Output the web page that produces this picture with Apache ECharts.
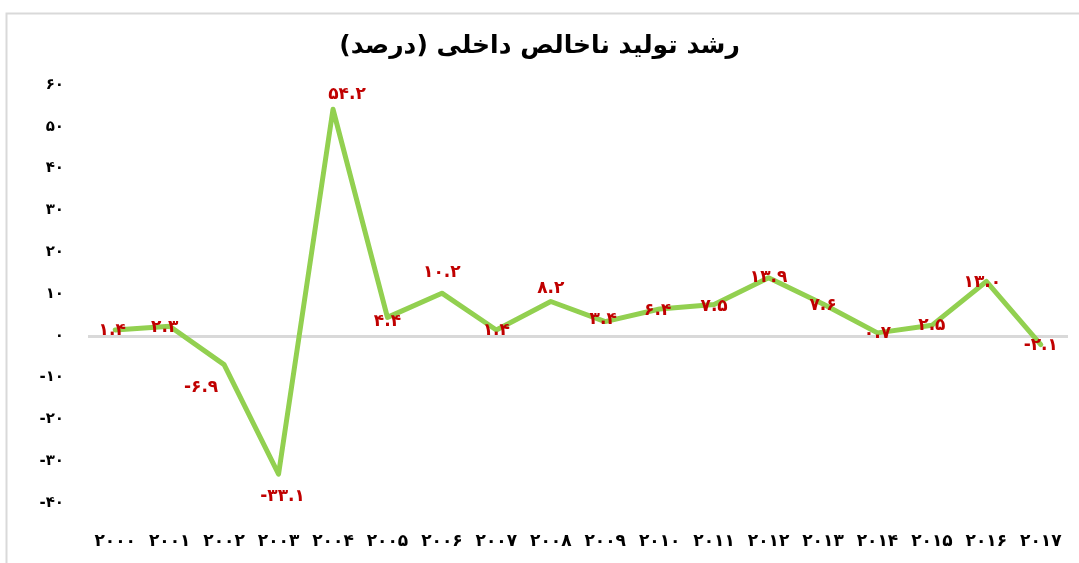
<!DOCTYPE html>
<html><head><meta charset="utf-8">
<script src="https://cdn.jsdelivr.net/npm/echarts@6/dist/echarts.min.js"></script>
<style>html,body{margin:0;padding:0;background:#fff}#c{width:1079px;height:563px}</style>
</head><body><div id="c"></div>
<script>
const titleText = 'رشد تولید ناخالص داخلی (درصد)';
const years = ['2000','2001','2002','2003','2004','2005','2006','2007','2008','2009','2010','2011','2012','2013','2014','2015','2016','2017'];
const growth = [1.4, 2.3, -6.9, -33.1, 54.2, 4.4, 10.2, 1.4, 8.2, 3.4, 6.4, 7.5, 13.9, 7.6, 0.7, 2.5, 13.0, -2.1];
const yTicks = [-40, -30, -20, -10, 0, 10, 20, 30, 40, 50, 60];

const fa = s => String(s).replace(/[0-9]/g, d => '۰۱۲۳۴۵۶۷۸۹'[d]);
const fontFam = '"DejaVu Sans", "Noto Sans", sans-serif';

// label offsets relative to each point (style only, pixels)
const labelShift = [[-3,1],[-5,1],[-23,23],[4,22],[14,-15],[0,4],[0,-21],[0,1],[0,-13],[-2,-2],[-2,2],[0,2],[0,0],[0,2],[0,1],[0,0],[-4,1],[0,1]];

const data = growth.map((v, i) => ({
  value: v,
  label: {show: true, position: labelShift[i], align: 'center', verticalAlign: 'middle'}
}));

const chart = echarts.init(document.getElementById('c'));
chart.setOption({
  animation: false,
  graphic: [{type: 'rect', shape: {x: 6.5, y: 13.5, width: 1080, height: 560}, style: {fill: 'none', stroke: '#d9d9d9', lineWidth: 2}}],
  title: {text: titleText, left: 'center', top: 29, textStyle: {fontFamily: fontFam, fontSize: 25, fontWeight: 'bold', color: '#000'}},
  grid: {left: 88, right: 11, top: 85, bottom: 60},
  xAxis: {
    type: 'category', data: years, boundaryGap: true,
    axisLine: {show: false}, axisTick: {show: false},
    axisLabel: {formatter: v => fa(v), fontFamily: fontFam, fontWeight: 'bold', fontSize: 17, color: '#000', margin: 30, interval: 0}
  },
  yAxis: {
    type: 'value', min: yTicks[0], max: yTicks[yTicks.length - 1], interval: 10,
    splitLine: {show: false}, axisLine: {show: false}, axisTick: {show: false},
    axisLabel: {formatter: v => fa(v), fontFamily: fontFam, fontWeight: 'bold', fontSize: 15, color: '#000', margin: 24}
  },
  series: [{
    type: 'line', data: data, symbol: 'circle', symbolSize: 0.01, showSymbol: true,
    itemStyle: {color: 'rgba(0,0,0,0)'},
    lineStyle: {color: '#92d050', width: 5, cap: 'round', join: 'round'},
    label: {show: true, formatter: p => fa(p.value.toFixed(1)), color: '#c00000', fontFamily: fontFam, fontWeight: 'bold', fontSize: 17},
    labelLayout: {hideOverlap: false},
    markLine: {silent: true, symbol: 'none', label: {show: false}, lineStyle: {color: '#d9d9d9', width: 3, type: 'solid'}, data: [{yAxis: 0}], z: 1},
    z: 3
  }]
});
</script></body></html>
